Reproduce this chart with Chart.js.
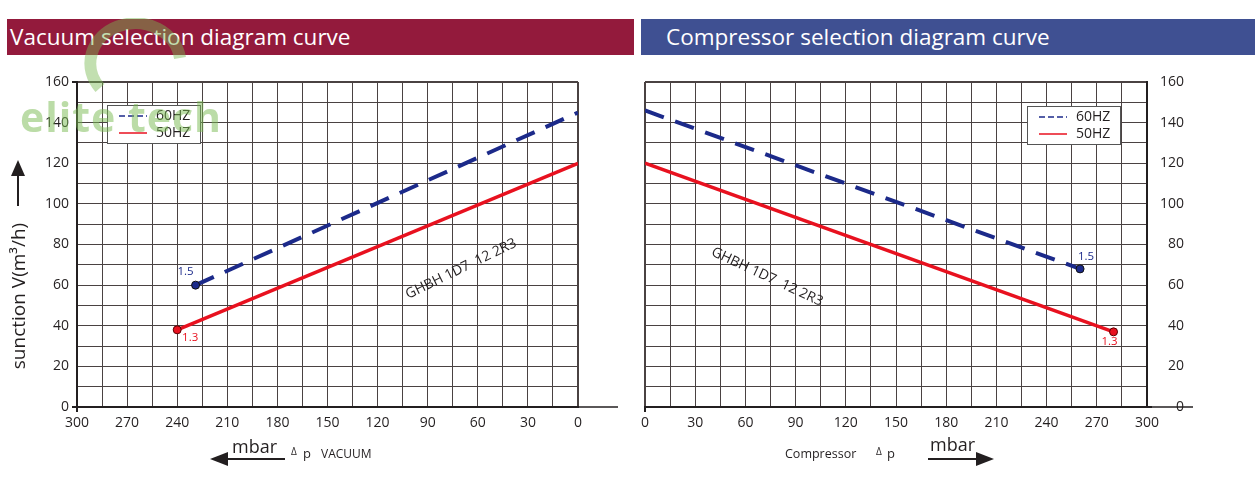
<!DOCTYPE html>
<html>
<head>
<meta charset="utf-8">
<script src="https://cdn.jsdelivr.net/npm/chart.js@4.4.1/dist/chart.umd.min.js"></script>
<style>
  body { margin: 0; background: #fff; width: 1260px; height: 490px; overflow: hidden; position: relative; font-family: "Open Sans", sans-serif; }
  .hdr { position: absolute; top: 19px; height: 36px; color: #fff; font-size: 22.5px; line-height: 36px; padding-left: 3px; box-sizing: border-box; }
  #hdrLeft { left: 7px; width: 627px; background: #931a3c; }
  #hdrRight { left: 641px; width: 614px; background: #3f5092; padding-left: 25px; }
  canvas { position: absolute; top: 0; }
  #vacCanvas { left: 0; }
  #compCanvas { left: 638px; }
  #mark { position: absolute; left: 20px; top: 88px; font: bold 41px "Open Sans", sans-serif; color: rgba(120, 185, 80, 0.5); letter-spacing: 1px; pointer-events: none; }
  #logo { position: absolute; left: 70px; top: 18px; pointer-events: none; }
</style>
</head>
<body>
<div class="hdr" id="hdrLeft">Vacuum selection diagram curve</div>
<div class="hdr" id="hdrRight">Compressor selection diagram curve</div>
<canvas id="vacCanvas" width="636" height="490"></canvas>
<canvas id="compCanvas" width="622" height="490"></canvas>
<svg id="logo" width="140" height="90"><path d="M30 70 A45 40 0 1 1 110 40" fill="none" stroke="rgba(120,185,80,0.45)" stroke-width="12"/></svg>
<div id="mark">elite tech</div>
<script>
// ---------------- data ----------------
const seriesNames = ['60HZ', '50HZ'];
const seriesTags = ['1.5', '1.3'];
const modelName = 'GHBH 1D7  12 2R3';

// vacuum side (x = Δp mbar, y = suction m3/h)
const vac60X = [229, 0];
const vac60Y = [60, 145];
const vac50X = [240, 0];
const vac50Y = [38, 120];

// compressor side
const comp60X = [0, 260];
const comp60Y = [146, 68];
const comp50X = [0, 280];
const comp50Y = [120, 37];

const xMax = 300, yMax = 160;

const blue = '#1c2a8a';
const red = '#e8111f';
const ink = '#231f20';
const gridCol = '#4a4242';

function pts(xs, ys) {
  return xs.map((x, i) => ({x: x, y: ys[i]}));
}

function makeSets(x60, y60, x50, y50, dotIdx) {
  const radius = (i) => i === dotIdx ? 4 : 0;
  return [
    {label: seriesNames[0], data: pts(x60, y60), showLine: true, borderColor: blue, backgroundColor: blue,
     borderWidth: 4, borderDash: [20, 12], pointRadius: [0, 1].map(radius), pointBorderColor: '#111',
     pointBorderWidth: 1, tag: seriesTags[0]},
    {label: seriesNames[1], data: pts(x50, y50), showLine: true, borderColor: red, backgroundColor: red,
     borderWidth: 3.5, pointRadius: [0, 1].map(radius), pointBorderColor: '#5a0000',
     pointBorderWidth: 1, tag: seriesTags[1]}
  ];
}

function arrow(ctx, x1, y, x2, head) {
  ctx.save();
  ctx.strokeStyle = ink; ctx.fillStyle = ink; ctx.lineWidth = 2;
  ctx.beginPath(); ctx.moveTo(x1, y); ctx.lineTo(x2, y); ctx.stroke();
  const dir = x2 > x1 ? 1 : -1;
  ctx.beginPath();
  ctx.moveTo(x2 + dir * 4, y);
  ctx.lineTo(x2 - dir * head, y - 7);
  ctx.lineTo(x2 - dir * head, y + 7);
  ctx.closePath(); ctx.fill();
  ctx.restore();
}

// draws legend, point tags, model text and the axis captions
const decor = {
  id: 'decor',
  afterDatasetsDraw(chart, args, o) {
    const ctx = chart.ctx;
    const xs = chart.scales.x, ys = chart.scales.y;
    const area = chart.chartArea;
    ctx.save();

    // extension of the x axis line
    ctx.strokeStyle = ink; ctx.lineWidth = 1.5;
    ctx.beginPath();
    ctx.moveTo(area.right, area.bottom);
    ctx.lineTo(area.right + o.axisExt, area.bottom);
    ctx.stroke();

    // legend box
    const lg = o.legend;
    ctx.fillStyle = '#fff';
    ctx.fillRect(lg.x, lg.y, 93, 38);
    ctx.strokeStyle = '#555'; ctx.lineWidth = 1;
    ctx.strokeRect(lg.x + 0.5, lg.y + 0.5, 93, 38);
    chart.data.datasets.forEach((ds, i) => {
      const yy = lg.y + 11 + i * 17;
      ctx.strokeStyle = ds.borderColor; ctx.lineWidth = 1.5;
      ctx.setLineDash(ds.borderDash ? [6, 3] : []);
      ctx.beginPath(); ctx.moveTo(lg.x + 12, yy); ctx.lineTo(lg.x + 40, yy); ctx.stroke();
      ctx.setLineDash([]);
      ctx.fillStyle = ink; ctx.font = '14px "Open Sans"';
      ctx.textBaseline = 'middle'; ctx.textAlign = 'left';
      ctx.fillText(ds.label, lg.x + 49, yy);
    });

    // tags next to the end points
    chart.data.datasets.forEach((ds, i) => {
      const p = ds.data[o.dotIdx];
      const off = o.tagOff[i];
      ctx.fillStyle = ds.borderColor;
      ctx.font = '11.5px "Open Sans"';
      ctx.textAlign = 'center'; ctx.textBaseline = 'middle';
      ctx.fillText(ds.tag, xs.getPixelForValue(p.x) + off[0], ys.getPixelForValue(p.y) + off[1]);
    });

    // model name
    ctx.save();
    ctx.translate(xs.getPixelForValue(o.model[0]), ys.getPixelForValue(o.model[1]));
    ctx.rotate(o.model[2] * Math.PI / 180);
    ctx.fillStyle = ink; ctx.font = '14px "Open Sans"';
    ctx.textAlign = 'center'; ctx.textBaseline = 'middle';
    ctx.fillText(modelName, 0, 0);
    ctx.restore();

    // captions under the x axis
    ctx.fillStyle = ink;
    ctx.textBaseline = 'alphabetic'; ctx.textAlign = 'left';
    if (o.side === 'left') {
      ctx.font = '18px "Open Sans"';
      ctx.fillText('mbar', 232, 453);
      arrow(ctx, 285, 459, 214, 14);
      ctx.font = '10px "Open Sans"';
      ctx.fillText('Δ', 291, 455);
      ctx.font = '13px "Open Sans"';
      ctx.fillText('p', 303, 458);
      ctx.font = '12px "Open Sans"';
      ctx.fillText('VACUUM', 321, 458);

      // y axis title with arrow
      ctx.save();
      ctx.translate(25, 296);
      ctx.rotate(-Math.PI / 2);
      ctx.font = '19px "Open Sans"';
      ctx.textAlign = 'center';
      ctx.fillText('sunction V(m³/h)', 0, 0);
      ctx.restore();
      ctx.strokeStyle = ink; ctx.lineWidth = 2;
      ctx.beginPath(); ctx.moveTo(18, 206); ctx.lineTo(18, 172); ctx.stroke();
      ctx.beginPath(); ctx.moveTo(18, 160); ctx.lineTo(11, 176); ctx.lineTo(25, 176); ctx.closePath(); ctx.fill();
    } else {
      ctx.font = '12.5px "Open Sans"';
      ctx.fillText('Compressor', 147, 458);
      ctx.font = '10px "Open Sans"';
      ctx.fillText('Δ', 238, 455);
      ctx.font = '13px "Open Sans"';
      ctx.fillText('p', 249, 458);
      ctx.font = '18px "Open Sans"';
      ctx.fillText('mbar', 292, 451);
      arrow(ctx, 290, 459, 352, 14);
    }
    ctx.restore();
  }
};

function makeChart(id, cfg) {
  const edge = (v, a, b) => (v === a || v === b) ? 2 : 1;
  const edgeTick = (v, a, b, keepTop) => (v === a || (keepTop && v === b)) ? ink : 'rgba(0,0,0,0)';
  return new Chart(document.getElementById(id), {
    type: 'scatter',
    data: {datasets: cfg.sets},
    options: {
      responsive: false,
      animation: false,
      layout: {padding: cfg.padding},
      plugins: {legend: {display: false}, tooltip: {enabled: false}, decor: cfg.decor},
      scales: {
        x: {
          type: 'linear', min: 0, max: xMax, reverse: cfg.reverse,
          afterFit: (s) => { s.height = 83; },
          border: {color: ink, width: 2},
          grid: {color: gridCol, lineWidth: (c) => edge(c.tick.value, 0, xMax), tickLength: 5,
                 tickColor: (c) => edgeTick(c.tick.value, cfg.xTickAt, -1, false)},
          ticks: {stepSize: 15, autoSkip: false, maxRotation: 0, padding: 3, color: ink,
                  font: {family: 'Open Sans', size: 14},
                  callback: (v) => v % 30 === 0 ? v : ''}
        },
        y: {
          type: 'linear', min: 0, max: yMax, position: cfg.yPos,
          afterFit: (s) => { s.width = cfg.yWidth; },
          border: {color: ink, width: 2},
          grid: {color: gridCol, lineWidth: (c) => edge(c.tick.value, 0, yMax), tickLength: 5,
                 tickColor: (c) => edgeTick(c.tick.value, 0, yMax, cfg.yPos === 'left')},
          ticks: {stepSize: 10, autoSkip: false, padding: 3, color: ink, crossAlign: cfg.crossAlign,
                  font: {family: 'Open Sans', size: 14},
                  callback: (v) => v % 20 === 0 ? v : ''}
        }
      }
    },
    plugins: [decor]
  });
}

makeChart('vacCanvas', {
  sets: makeSets(vac60X, vac60Y, vac50X, vac50Y, 0),
  reverse: true,
  yPos: 'left',
  yWidth: 77,
  crossAlign: 'near',
  xTickAt: xMax,
  padding: {top: 82, left: 0, right: 58, bottom: 0},
  decor: {side: 'left', dotIdx: 0, axisExt: 40, legend: {x: 107, y: 105},
          tagOff: [[-10, -13], [13, 8]], model: [70, 68, -26]}
});

makeChart('compCanvas', {
  sets: makeSets(comp60X, comp60Y, comp50X, comp50Y, 1),
  reverse: false,
  yPos: 'right',
  yWidth: 37,
  crossAlign: 'far',
  xTickAt: 0,
  padding: {top: 82, left: 4, right: 76, bottom: 0},
  decor: {side: 'right', dotIdx: 1, axisExt: 46, legend: {x: 389, y: 106},
          tagOff: [[6, -12], [-4, 10]], model: [73, 64, 25]}
});
</script>
</body>
</html>
